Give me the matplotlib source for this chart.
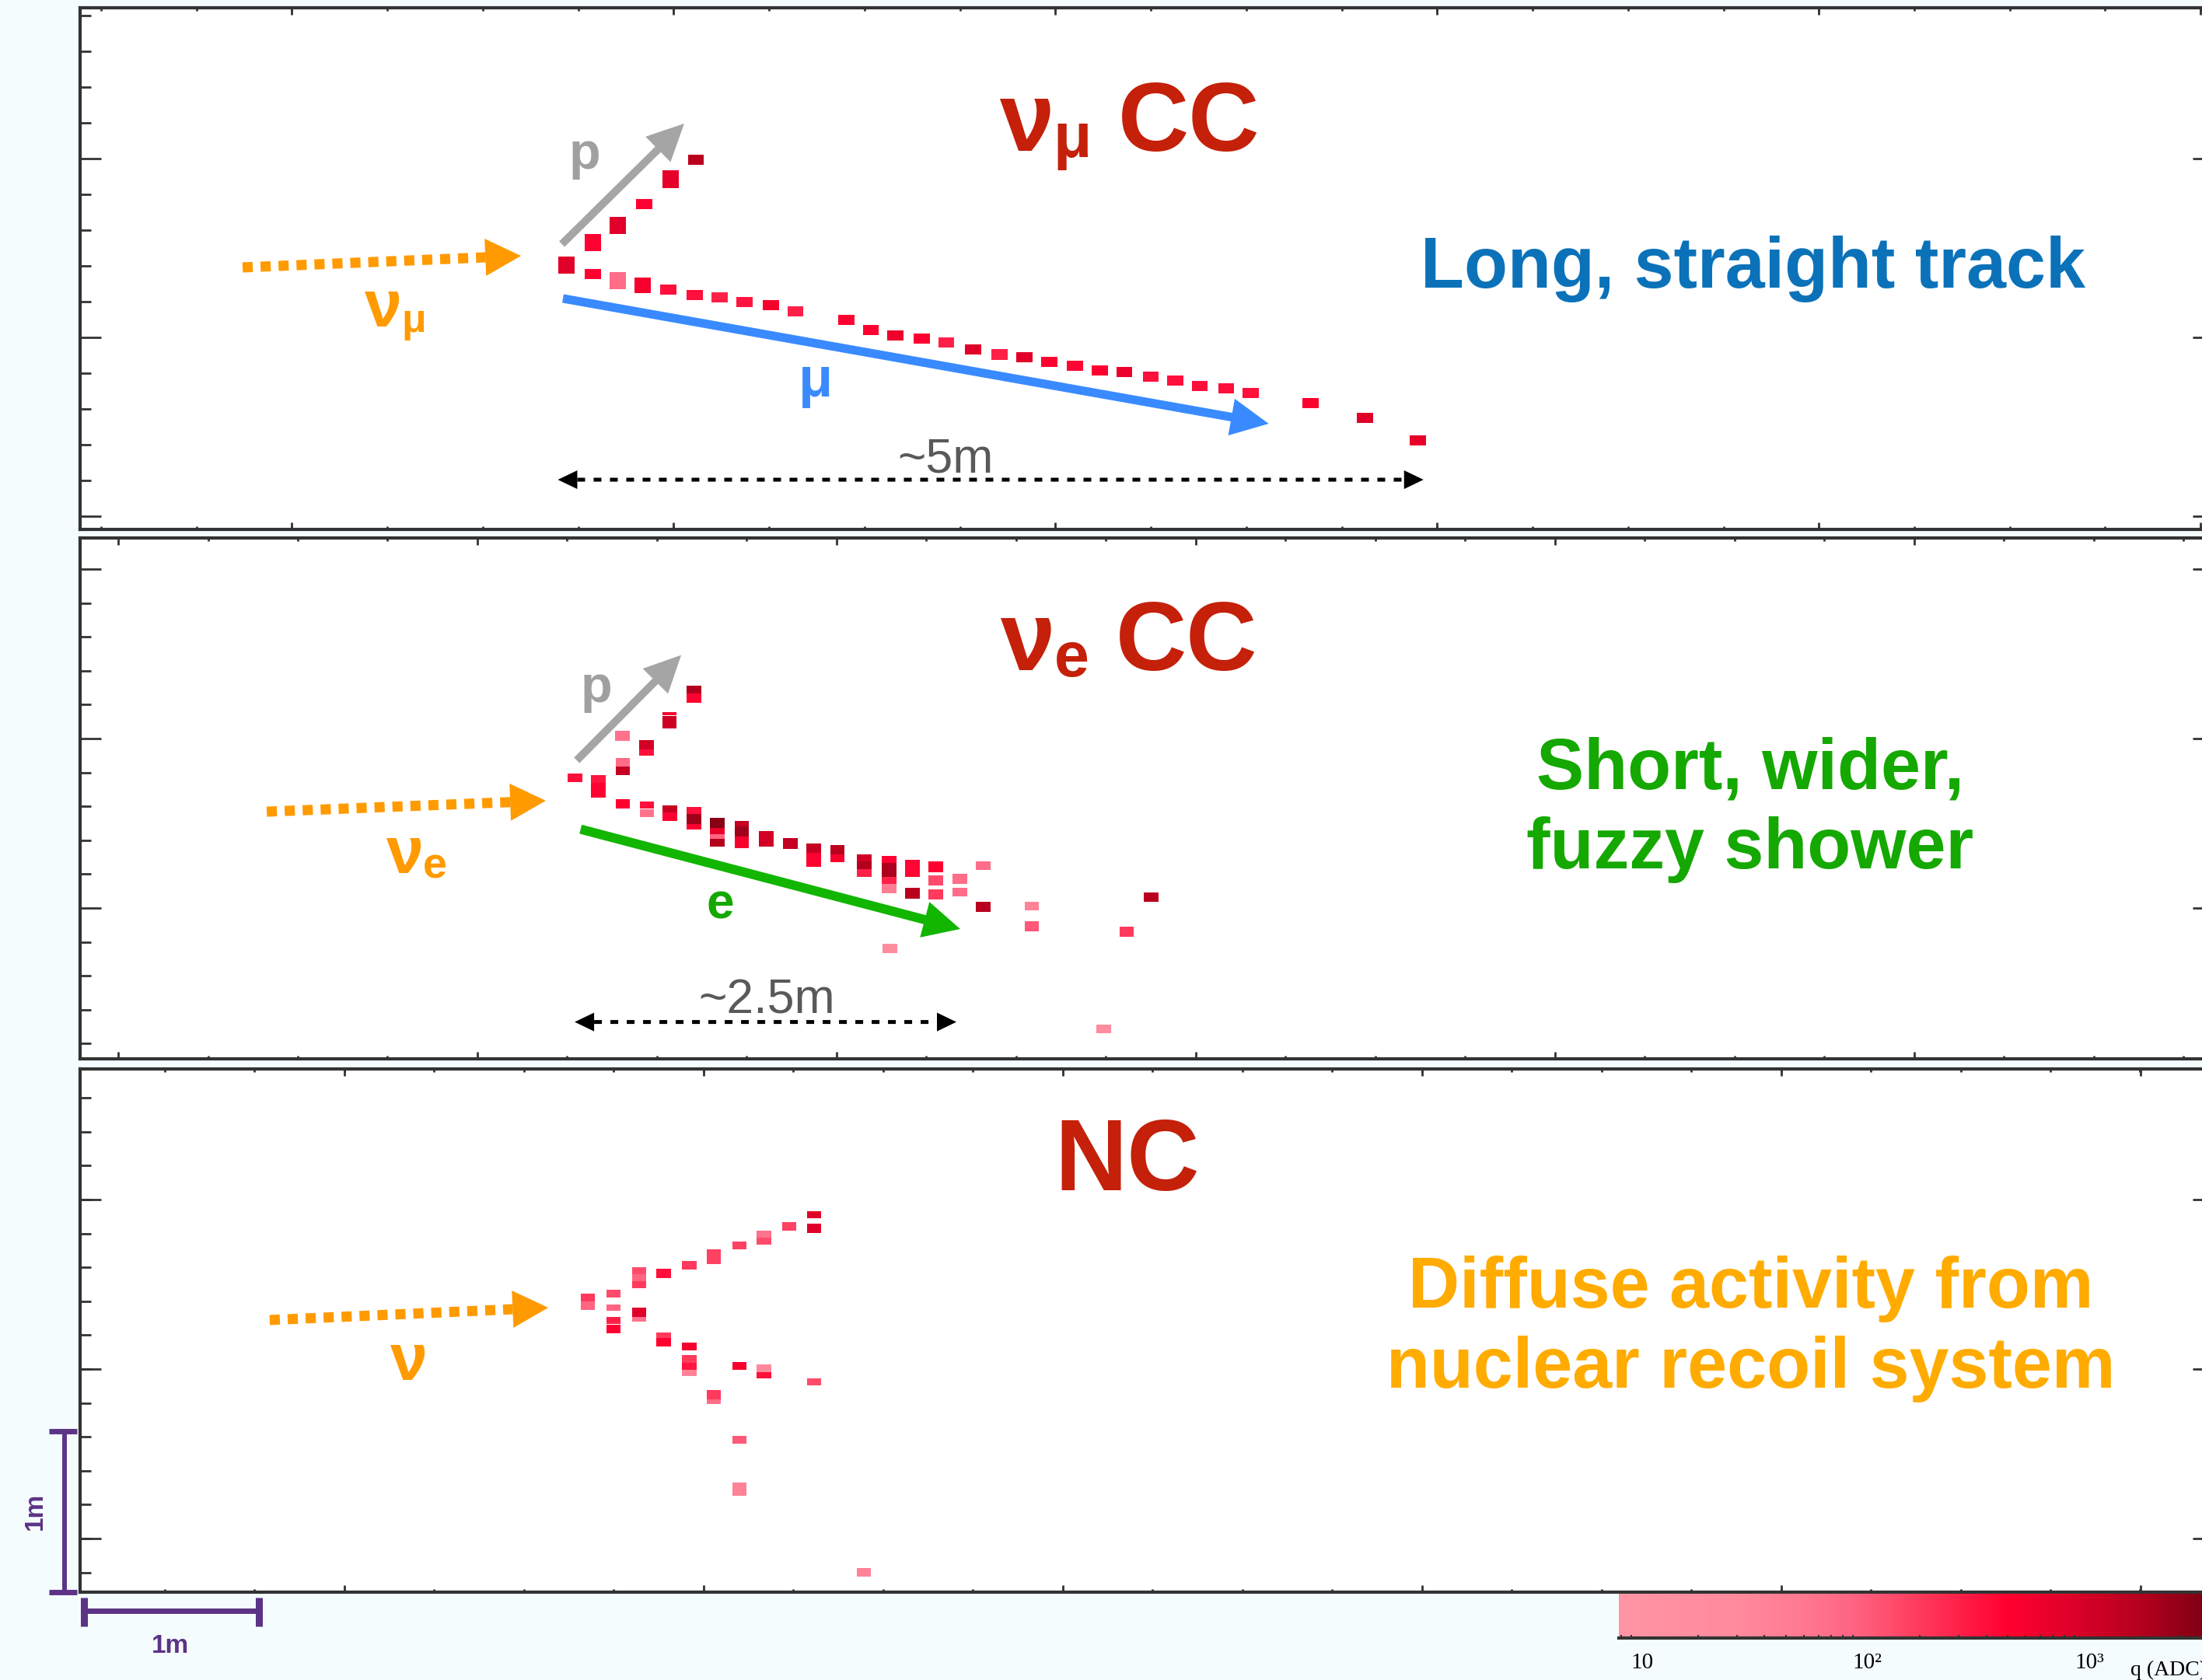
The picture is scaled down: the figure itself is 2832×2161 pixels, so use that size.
import matplotlib
matplotlib.use("Agg")
import matplotlib.pyplot as plt
import numpy as np
from matplotlib.colors import LinearSegmentedColormap, LogNorm
from matplotlib.patches import FancyArrowPatch, ArrowStyle
from matplotlib.font_manager import FontProperties

plt.rcParams['font.family'] = ['Liberation Sans', 'DejaVu Sans']

W, H, DPI = 2832, 2161, 100

# hits: centre x, centre y (cm from the panel's lower-left corner), height (cm), charge q (ADC)
numu_x = [278.0, 293.3, 307.3, 322.4, 337.6, 352.0, 293.3, 307.3, 321.6, 336.4, 351.3, 365.6,
          379.8, 394.7, 408.9, 438.0, 452.0, 466.1, 481.2, 495.1, 510.5, 525.6, 539.8, 553.8,
          568.8, 582.7, 596.9, 612.0, 626.1, 640.0, 655.1, 669.1, 703.3, 734.4, 764.7]
numu_y = [164.3, 178.3, 189.1, 202.2, 217.6, 229.5, 158.7, 154.6, 151.7, 149.0, 145.7, 144.4,
          141.3, 139.4, 135.7, 130.2, 123.7, 120.4, 118.8, 116.2, 111.7, 108.7, 107.2, 104.3,
          101.9, 98.7, 97.6, 94.7, 92.3, 89.1, 87.7, 85.0, 78.5, 69.3, 55.1]
numu_h = [10.6, 10.6, 10.6, 6.3, 11.0, 6.3, 6.3, 10.6, 10.0, 6.3, 6.3, 6.3,
          6.3, 6.3, 6.3, 6.3, 6.3, 6.3, 6.3, 6.3, 6.3, 6.3, 6.3, 6.3,
          6.3, 6.3, 6.3, 6.3, 6.3, 6.3, 6.3, 6.3, 6.3, 6.3, 6.3]
numu_q = [900, 500, 900, 500, 800, 1800, 500, 80, 600, 400, 400, 300,
          350, 600, 300, 500, 500, 700, 500, 300, 900, 300, 900, 500,
          450, 500, 700, 400, 400, 400, 400, 400, 550, 900, 800]

nue_x = [282.7, 296.4, 296.4, 310.2, 310.2, 310.0, 323.6, 323.6, 336.9, 336.9, 350.7, 350.7,
         310.2, 324.0, 324.0, 337.3, 337.3, 351.0, 351.0, 351.0, 364.4, 364.4, 364.4, 364.4,
         378.2, 378.2, 378.2, 392.4, 405.8, 419.3, 419.3, 432.9, 432.9, 448.3, 448.3, 448.3,
         462.4, 462.4, 462.4, 462.4, 475.8, 475.8, 489.3, 489.3, 489.3, 502.9, 502.9, 516.4,
         516.4, 462.7, 544.0, 544.0, 598.2, 612.4, 585.3]
nue_y = [174.6, 173.9, 166.7, 184.3, 179.0, 200.6, 195.2, 190.3, 214.5, 209.3, 229.6, 224.2,
         158.5, 157.8, 152.7, 155.3, 150.6, 154.3, 149.1, 144.3, 146.7, 141.3, 138.2, 134.2,
         146.2, 141.4, 134.5, 136.6, 133.8, 131.0, 123.7, 129.6, 124.5, 124.8, 120.1, 115.5,
         124.0, 117.1, 110.9, 105.7, 118.5, 103.0, 119.5, 110.8, 102.1, 111.9, 103.6, 120.1,
         94.3, 68.7, 95.0, 82.3, 79.1, 100.5, 18.5]
nue_h = [5.3, 4.8, 9.2, 5.2, 5.3, 6.3, 5.9, 4.0, 1.7, 7.7, 4.8, 5.9,
         5.8, 4.5, 5.2, 4.3, 5.2, 4.3, 6.1, 3.2, 6.4, 4.0, 2.9, 4.8,
         3.2, 6.4, 7.6, 9.7, 6.4, 5.7, 8.8, 6.1, 4.8, 4.5, 4.8, 4.5,
         4.5, 8.8, 4.3, 5.7, 10.5, 6.8, 6.8, 6.4, 6.4, 6.1, 5.7, 5.5,
         6.4, 5.7, 5.2, 6.4, 6.4, 5.7, 5.3]
nue_q = [400, 350, 500, 80, 1500, 70, 1200, 400, 600, 1300, 2000, 500,
         500, 400, 70, 1500, 500, 400, 2500, 500, 3500, 800, 100, 2000,
         1500, 2500, 600, 1200, 1500, 1500, 500, 1800, 600, 1200, 2000, 300,
         500, 2200, 300, 50, 450, 1800, 500, 150, 200, 80, 80, 80,
         1800, 25, 40, 120, 200, 1800, 25]

nc_x = [290.2, 290.2, 304.9, 304.9, 304.9, 304.9, 319.6, 319.6, 319.6, 319.6, 319.6, 333.6,
        333.6, 333.6, 348.2, 348.2, 348.2, 348.2, 348.2, 362.2, 362.2, 362.2, 376.9, 376.9,
        376.9, 376.9, 390.9, 390.9, 390.9, 390.9, 405.3, 419.6, 419.6, 419.6, 448.0]
nc_y = [183.1, 178.1, 185.5, 176.8, 168.8, 163.6, 199.8, 195.3, 191.0, 173.8, 169.6, 198.0,
        159.8, 155.3, 203.1, 152.5, 144.8, 140.3, 136.2, 208.4, 122.6, 118.4, 215.5, 140.6,
        94.7, 64.0, 222.6, 218.2, 139.1, 134.9, 227.4, 234.7, 226.1, 130.7, 12.3]
nc_h = [4.8, 5.0, 4.7, 4.3, 4.2, 5.5, 4.3, 4.5, 4.3, 5.7, 2.9, 5.7,
        3.2, 5.7, 5.7, 4.8, 4.8, 4.0, 4.0, 9.0, 5.7, 2.9, 5.2, 4.5,
        4.5, 8.6, 4.3, 4.5, 4.8, 3.7, 5.3, 4.3, 5.8, 4.7, 5.3]
nc_q = [200, 100, 150, 100, 300, 500, 150, 100, 200, 900, 70, 400,
        200, 500, 200, 600, 200, 350, 40, 180, 200, 80, 180, 600,
        120, 40, 70, 150, 30, 400, 180, 900, 900, 150, 40]

# charge palette of the event display
palette_q = [8.8, 30, 60, 100, 200, 500, 1000, 2000, 4000, 10000]
palette_c = ['#ff94a4', '#ff8a9c', '#ff7890', '#ff6482', '#ff3a5c', '#ff0030',
             '#dc0028', '#b4001e', '#7c0012', '#4a0008']
cbar_ticks = [10, 100, 1000, 10000]
cbar_labels = ['10', '10\u00b2', '10\u00b3', '']

lq = np.log10(palette_q)
cmap = LinearSegmentedColormap.from_list('hits', list(zip((lq - lq[0]) / (lq[-1] - lq[0]), palette_c)))
norm = LogNorm(palette_q[0], palette_q[-1])

ORANGE = '#ff9a00'
GREY = '#a5a5a5'
PURPLE = '#5c3386'
TITLE_RED = '#c4200a'
FRAME = '#333333'

fig = plt.figure(figsize=(W / DPI, H / DPI), dpi=DPI, facecolor='#f5fcfd')
renderer = fig.canvas.get_renderer()

PX_CM_X, PX_CM_Y = 2.25, 2.07
LEFT, RIGHT = 103, 2847


def make_panel(top, bottom, xt, yt):
    ax = fig.add_axes([LEFT / W, 1 - bottom / H, (RIGHT - LEFT) / W, (bottom - top) / H])
    xmax = (RIGHT - LEFT) / PX_CM_X
    ymax = (bottom - top) / PX_CM_Y
    ax.set_xlim(0, xmax)
    ax.set_ylim(0, ymax)
    ax.set_facecolor('white')
    # ROOT-like frame: inward ticks on all four sides
    ax.set_xticks(np.arange(xt[0], xmax, xt[1]))
    ax.set_xticks(np.arange(xt[2], xmax, xt[1] / 4), minor=True)
    ax.set_yticks(np.arange(yt[0], ymax, yt[1]))
    ax.set_yticks(np.arange(yt[2], ymax, yt[1] / 5), minor=True)
    ax.tick_params(which='both', direction='in', top=True, right=True, labelbottom=False,
                   labelleft=False, color=FRAME, width=2)
    ax.tick_params(axis='y', which='major', length=19.5)
    ax.tick_params(axis='y', which='minor', length=10)
    ax.tick_params(axis='x', which='major', length=6.5)
    ax.tick_params(axis='x', which='minor', length=3.2)
    for s in ax.spines.values():
        s.set_linewidth(3)
        s.set_color(FRAME)
    return ax


def draw_hits(ax, xs, ys, hs, qs, width):
    ys = np.asarray(ys)
    hs = np.asarray(hs)
    ax.bar(xs, hs, width=width, bottom=ys - hs / 2, color=cmap(norm(qs)), linewidth=0)


def solid_arrow(ax, tail, tip, color, tail_w, head_l, head_w):
    st = ArrowStyle('simple', head_length=head_l, head_width=head_w, tail_width=tail_w)
    ax.add_patch(FancyArrowPatch(tail, tip, arrowstyle=st, mutation_scale=1, color=color,
                                 lw=0, shrinkA=0, shrinkB=0))


def dotted_arrow(ax, tail, tip, color, lw, dashes, head_l, head_w, both=False):
    ax.add_patch(FancyArrowPatch(tail, tip, arrowstyle='-', color=color, lw=lw,
                                 linestyle=(0, dashes), capstyle='butt',
                                 shrinkA=head_l if both else 0, shrinkB=head_l))
    solid_arrow(ax, tail, tip, color, 0.01, head_l, head_w)
    if both:
        solid_arrow(ax, tip, tail, color, 0.01, head_l, head_w)


def width_pt(s, fp):
    return renderer.get_text_width_height_descent(s, fp, ismath=False)[0] * 72.0 / DPI


def nu_text(ax, x, y, sub, size, color, rest='', sub_scale=0.62, drop=0.05):
    fp = FontProperties(family='Liberation Sans', weight='bold', size=size)
    fs = FontProperties(family='Liberation Sans', weight='bold', size=size * sub_scale)
    ax.text(x, y, '\u03bd', fontproperties=fp, color=color, ha='left', va='baseline')
    if not sub:
        return
    dx = width_pt('\u03bd', fp) - 0.01 * size
    ax.annotate(sub, (x, y), xytext=(dx, -drop * size), textcoords='offset points',
                fontproperties=fs, color=color, ha='left', va='baseline')
    if rest:
        dx += width_pt(sub, fs) + 0.27 * size
        ax.annotate(rest, (x, y), xytext=(dx, 0), textcoords='offset points',
                    fontproperties=fp, color=color, ha='left', va='baseline')


def bold(ax, x, y, s, size, color, ha='center'):
    ax.text(x, y, s, fontsize=size, fontweight='bold', color=color, ha=ha, va='baseline')


# ---------------- panel 1: numu CC ----------------
ax1 = make_panel(10, 681, (120.9, 218.2, 12.0), (8.2, 111.1, 8.2))
draw_hits(ax1, numu_x, numu_y, numu_h, numu_q, 9.3)
dotted_arrow(ax1, (92.9, 162.8), (252.0, 170.0), ORANGE, 9.4, (1.0, 0.77), 33, 34.5)
solid_arrow(ax1, (275.4, 177.3), (345.3, 252.2), GREY, 7.2, 34, 33)
solid_arrow(ax1, (276.0, 143.5), (679.4, 65.7), '#3a8aff', 8.0, 35, 34.5)
dotted_arrow(ax1, (273.1, 30.9), (767.9, 30.9), 'black', 3.6, (2.0, 2.2), 18, 17.3, both=True)
ax1.text(494.7, 35.3, '~5m', fontsize=45, color='#595959', ha='center', va='baseline')
bold(ax1, 288.4, 224.3, 'p', 48, '#a0a0a0')
bold(ax1, 420.4, 82.6, '\u03bc', 52, '#3a8aff')
nu_text(ax1, 162.7, 126.1, '\u03bc', 62, ORANGE, sub_scale=0.6, drop=0.08)
nu_text(ax1, 525.5, 235.3, '\u03bc', 91, TITLE_RED, rest='CC', sub_scale=0.64, drop=0.06)
bold(ax1, 956.4, 150.2, 'Long, straight track', 66, '#0b72b9')

# ---------------- panel 2: nue CC ----------------
ax2 = make_panel(692, 1362, (21.8, 205.3, 21.8), (9.5 + 4 * 21.06, 105.3, 9.5))
draw_hits(ax2, nue_x, nue_y, nue_h, nue_q, 8.4)
dotted_arrow(ax2, (106.7, 153.6), (266.2, 160.4), ORANGE, 9.4, (1.0, 0.77), 33, 34.5)
solid_arrow(ax2, (283.9, 185.5), (343.6, 250.9), GREY, 7.2, 34, 33)
solid_arrow(ax2, (286.1, 142.7), (503.1, 80.7), '#12b500', 8.6, 34, 34)
dotted_arrow(ax2, (282.7, 22.9), (500.9, 22.9), 'black', 3.6, (2.0, 2.2), 18, 17.3, both=True)
ax2.text(392.4, 28.5, '~2.5m', fontsize=45, color='#595959', ha='center', va='baseline')
bold(ax2, 295.1, 221.7, 'p', 48, '#a0a0a0')
bold(ax2, 366.0, 87.4, 'e', 46, '#14a800')
nu_text(ax2, 175.1, 115.5, 'e', 62, ORANGE, sub_scale=0.65, drop=0.08)
nu_text(ax2, 526.0, 241.5, 'e', 91, TITLE_RED, rest='CC', sub_scale=0.64, drop=0.06)
bold(ax2, 954.7, 168.1, 'Short, wider,', 66, '#14a800')
bold(ax2, 954.7, 118.4, 'fuzzy shower', 66, '#14a800')

# ---------------- panel 3: NC ----------------
ax3 = make_panel(1375, 2048, (151.1, 205.3, 48.4), (33.3, 105.3, 12.3))
draw_hits(ax3, nc_x, nc_y, nc_h, nc_q, 8.2)
dotted_arrow(ax3, (108.4, 169.1), (267.6, 176.8), ORANGE, 9.4, (1.0, 0.77), 33, 34.5)
nu_text(ax3, 177.3, 131.9, '', 62, ORANGE)
bold(ax3, 598.7, 249.8, 'NC', 93, TITLE_RED)
bold(ax3, 955.1, 176.8, 'Diffuse activity from', 66, '#ffab00')
bold(ax3, 955.1, 127.0, 'nuclear recoil system', 66, '#ffab00')

# 1 m scale bars
SCALE = 100
kw = dict(color=PURPLE, clip_on=False, solid_capstyle='butt')
ax3.plot([-8.9, -8.9], [0, SCALE], lw=4.3, **kw)
ax3.plot([-17.8, -1.8], [0, 0], lw=5, **kw)
ax3.plot([-17.8, -1.8], [SCALE, SCALE], lw=5, **kw)
ax3.plot([2, 2 + SCALE], [-11.8, -11.8], lw=5, **kw)
ax3.plot([2, 2], [-3.4, -21.3], lw=6.5, **kw)
ax3.plot([2 + SCALE, 2 + SCALE], [-3.4, -21.3], lw=6.5, **kw)
ax3.text(-25.8, 50.2, '1m', rotation=90, fontsize=24, fontweight='bold', color=PURPLE,
         ha='center', va='center', clip_on=False)
ax3.text(51.6, -33.8, '1m', fontsize=24, fontweight='bold', color=PURPLE,
         ha='center', va='center', clip_on=False)

# ---------------- colour scale ----------------
cax = fig.add_axes([2082 / W, 1 - 2107 / H, (2953 - 2082) / W, 57 / H])
qe = np.logspace(np.log10(palette_q[0]), np.log10(palette_q[-1]), 500)
qc = np.sqrt(qe[:-1] * qe[1:])
cax.pcolormesh(qe, [0, 1], qc[None, :], cmap=cmap, norm=norm, shading='flat')
cax.set_xscale('log')
cax.set_xlim(palette_q[0], palette_q[-1])
cax.set_ylim(0, 1)
cax.set_yticks([])
for side in ['top', 'left', 'right']:
    cax.spines[side].set_visible(False)
cax.spines['bottom'].set_linewidth(3)
cax.spines['bottom'].set_color(FRAME)
cax.set_xticks(cbar_ticks)
cax.set_xticklabels(cbar_labels, fontfamily='Liberation Serif', fontsize=21, ha='left')
cax.tick_params(axis='x', which='both', direction='in', length=3, width=1.5, color=FRAME, pad=14)
# axis title runs off the right edge, as in the original screenshot
fig.text(2740 / W, 1 - 2155 / H, 'q (ADC)', fontfamily='Liberation Serif', fontsize=20,
         ha='left', va='baseline')

fig.savefig('out.png', dpi=DPI, facecolor=fig.get_facecolor())
